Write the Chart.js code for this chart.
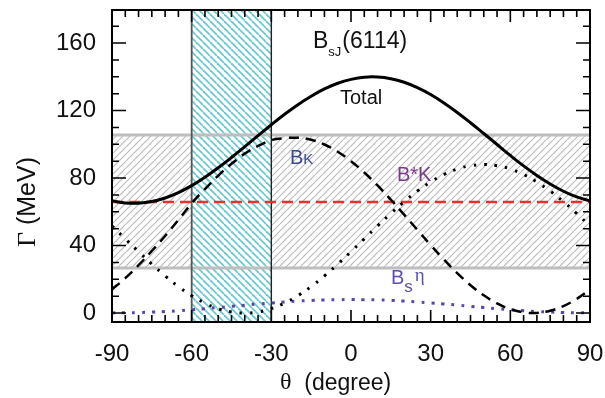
<!DOCTYPE html>
<html>
<head>
<meta charset="utf-8">
<script src="https://cdn.jsdelivr.net/npm/chart.js@4.4.1/dist/chart.umd.min.js"></script>
<style>
  body { margin: 0; background: #fff; }
  canvas { display: block; }
</style>
</head>
<body>
<canvas id="widthChart" width="605" height="398"></canvas>
<script>
// mixing angle theta (degree)
const theta = [-90, -85, -80, -75, -70, -65, -60, -55, -50, -45, -40, -35, -30, -25, -20, -15, -10, -5,
               0, 5, 10, 15, 20, 25, 30, 35, 40, 45, 50, 55, 60, 65, 70, 75, 80, 85, 90];
// widths in MeV
const total = [66.5, 65.2, 65.1, 66.1, 68.2, 71.4, 75.5, 80.5, 86.1, 92.2, 98.6, 105.1, 111.6, 117.8, 123.5, 128.5, 132.8, 136.2,
               138.5, 139.8, 139.9, 138.9, 136.8, 133.6, 129.5, 124.5, 118.9, 112.8, 106.4, 99.9, 93.4, 87.2, 81.5, 76.5, 72.2, 68.8, 66.5];
const bk = [14.0, 20.7, 28.4, 36.8, 45.7, 55.2, 65.0, 73.5, 81.5, 88.5, 94.5, 99.0, 102.5, 103.6, 103.9, 102.7, 99.9, 95.6,
            90.0, 83.3, 75.6, 67.2, 58.3, 49.3, 40.3, 31.7, 23.7, 16.5, 10.5, 5.7, 2.3, 0.4, 0.1, 1.4, 4.1, 8.4, 14.0];
const bstarK = [51.6, 44.0, 36.4, 29.0, 22.0, 15.7, 10.3, 5.9, 2.6, 0.7, 0.0, 0.7, 2.6, 5.9, 10.3, 15.7, 22.0, 29.0,
                36.4, 44.0, 51.6, 59.0, 66.0, 72.3, 77.7, 82.1, 85.4, 87.3, 88.0, 87.3, 85.4, 82.1, 77.7, 72.3, 66.0, 59.0, 51.6];
const bsEta = [0.1, 0.2, 0.3, 0.6, 0.9, 1.4, 2.0, 2.6, 3.3, 4.0, 4.7, 5.4, 6.0, 6.6, 7.1, 7.5, 7.8, 7.9,
               8.0, 7.9, 7.8, 7.5, 7.1, 6.6, 6.0, 5.4, 4.7, 4.0, 3.3, 2.6, 2.0, 1.4, 0.9, 0.6, 0.3, 0.2, 0.1];
const expWidth = 65.8;          // red dashed line
const expBand = [26.7, 105.5];  // grey hatched band
const thetaBand = [-60, -30];   // cyan hatched band
const xTicks = [-90, -60, -30, 0, 30, 60, 90];
const yTicks = [0, 40, 80, 120, 160];

const FONT = '"Liberation Sans", Arial, sans-serif';
const SERIF = '"Liberation Serif", "Times New Roman", serif';

function pts(ys) {
    return theta.map((t, i) => ({ x: t, y: ys[i] }));
}

function hatch(color, size, lw, back) {
    const c = document.createElement('canvas');
    c.width = size; c.height = size;
    const g = c.getContext('2d');
    g.strokeStyle = color;
    g.lineWidth = lw;
    for (let k = -1; k <= 1; k++) {
        g.beginPath();
        if (back) {
            g.moveTo(k * size, 0); g.lineTo(k * size + size, size);
        } else {
            g.moveTo(k * size, size); g.lineTo(k * size + size, 0);
        }
        g.stroke();
    }
    return g.createPattern(c, 'repeat');
}

const bandsPlugin = {
    id: 'bands',
    beforeDatasetsDraw(chart) {
        const ctx = chart.ctx, a = chart.chartArea;
        const xs = chart.scales.x, ys = chart.scales.y;
        ctx.save();
        ctx.beginPath();
        ctx.rect(a.left, a.top, a.right - a.left, a.bottom - a.top);
        ctx.clip();
        // grey band
        const gTop = ys.getPixelForValue(expBand[1]);
        const gBot = ys.getPixelForValue(expBand[0]);
        ctx.fillStyle = hatch('#bcbcbc', 7, 1.2, false);
        ctx.fillRect(a.left, gTop, a.right - a.left, gBot - gTop);
        // cyan band
        const cL = xs.getPixelForValue(thetaBand[0]);
        const cR = xs.getPixelForValue(thetaBand[1]);
        ctx.fillStyle = '#fff';
        ctx.fillRect(cL, a.top, cR - cL, a.bottom - a.top);
        ctx.fillStyle = hatch('#6cc8d2', 7, 1.8, true);
        ctx.fillRect(cL, a.top, cR - cL, a.bottom - a.top);
        // band borders
        ctx.strokeStyle = '#bebebe';
        ctx.lineWidth = 3;
        [gTop, gBot].forEach(y => {
            ctx.beginPath(); ctx.moveTo(a.left, y); ctx.lineTo(a.right, y); ctx.stroke();
        });
        ctx.strokeStyle = '#555';
        ctx.lineWidth = 1.8;
        ctx.beginPath(); ctx.moveTo(cL, a.top); ctx.lineTo(cL, a.bottom); ctx.stroke();
        ctx.strokeStyle = '#222';
        ctx.lineWidth = 1.4;
        ctx.beginPath(); ctx.moveTo(cR, a.top); ctx.lineTo(cR, a.bottom); ctx.stroke();
        ctx.restore();
    }
};

function txt(ctx, s, x, y, font, color, align) {
    ctx.font = font;
    ctx.fillStyle = color;
    ctx.textAlign = align || 'left';
    ctx.fillText(s, x, y);
    return ctx.measureText(s).width;
}

const framePlugin = {
    id: 'frame',
    afterDraw(chart) {
        const ctx = chart.ctx, a = chart.chartArea;
        const xs = chart.scales.x, ys = chart.scales.y;
        ctx.save();
        ctx.strokeStyle = '#000';
        ctx.lineWidth = 2;
        ctx.strokeRect(a.left, a.top, a.right - a.left, a.bottom - a.top);
        ctx.lineWidth = 1.6;
        // inward ticks, x every 5, y every 10
        for (let t = -90; t <= 90; t += 5) {
            const px = xs.getPixelForValue(t);
            const len = (t % 30 === 0) ? 12 : 7;
            ctx.beginPath();
            ctx.moveTo(px, a.bottom); ctx.lineTo(px, a.bottom - len);
            ctx.moveTo(px, a.top); ctx.lineTo(px, a.top + len);
            ctx.stroke();
        }
        for (let v = 0; v <= 170; v += 10) {
            const py = ys.getPixelForValue(v);
            const len = (v % 40 === 0) ? 14 : 7;
            ctx.beginPath();
            ctx.moveTo(a.left, py); ctx.lineTo(a.left + len, py);
            ctx.moveTo(a.right, py); ctx.lineTo(a.right - len, py);
            ctx.stroke();
        }
        ctx.textBaseline = 'alphabetic';
        // title
        let x = 313;
        x += txt(ctx, 'B', x, 48, '23px ' + FONT, '#111');
        x += txt(ctx, 'sJ', x, 56, '13px ' + FONT, '#111');
        txt(ctx, '(6114)', x + 1, 48, '23px ' + FONT, '#111');
        txt(ctx, 'Total', 340, 104, '20px ' + FONT, '#111');
        // BK
        x = 290;
        x += txt(ctx, 'B', x, 164, '20px ' + FONT, '#3a4896');
        txt(ctx, 'K', x, 164, '15px ' + FONT, '#3a4896');
        txt(ctx, 'B*K', 397, 181, '20px ' + FONT, '#7a3a88');
        x = 391;
        x += txt(ctx, 'B', x, 284, '20px ' + FONT, '#5a50b4');
        x += txt(ctx, 's', x, 292, '17px ' + FONT, '#5a50b4');
        txt(ctx, 'η', x + 2, 281, '19px ' + SERIF, '#5a50b4');
        // axis titles
        ctx.textBaseline = 'middle';
        x = 280;
        x += txt(ctx, 'θ', x, 383, '24px ' + SERIF, '#111');
        txt(ctx, '  (degree)', x, 384, '23px ' + FONT, '#111');
        ctx.translate(28, 202);
        ctx.rotate(-Math.PI / 2);
        ctx.font = '26px ' + SERIF;
        const w1 = ctx.measureText('Γ').width;
        ctx.font = '25px ' + FONT;
        const w2 = ctx.measureText(' (MeV)').width;
        x = -(w1 + w2) / 2;
        x += txt(ctx, 'Γ', x, 0, '26px ' + SERIF, '#111');
        txt(ctx, ' (MeV)', x, 0, '25px ' + FONT, '#111');
        ctx.restore();
    }
};

new Chart(document.getElementById('widthChart').getContext('2d'), {
    type: 'line',
    data: {
        datasets: [
            { label: 'Total', data: pts(total), borderColor: '#000', borderWidth: 3, pointRadius: 0, tension: 0.4 },
            { label: 'BK', data: pts(bk), borderColor: '#000', borderWidth: 2.5, borderDash: [10, 7], pointRadius: 0, tension: 0.4 },
            { label: 'B*K', data: pts(bstarK), borderColor: '#000', borderWidth: 3, borderDash: [2.5, 8], pointRadius: 0, tension: 0.4 },
            { label: 'Bs eta', data: pts(bsEta), borderColor: '#5548a8', borderWidth: 3, borderDash: [3, 7], pointRadius: 0, tension: 0.4 },
            { label: 'exp', data: [{ x: -90, y: expWidth }, { x: 90, y: expWidth }], borderColor: '#e8312c', borderWidth: 2.5, borderDash: [11, 6], pointRadius: 0 }
        ]
    },
    options: {
        responsive: false,
        animation: false,
        devicePixelRatio: 1,
        layout: { padding: { left: 0, right: 15, top: 10, bottom: 0 } },
        plugins: { legend: { display: false }, tooltip: { enabled: false } },
        scales: {
            x: {
                type: 'linear', min: -90, max: 90,
                grid: { display: false, drawTicks: false },
                border: { display: false },
                afterBuildTicks: s => { s.ticks = xTicks.map(v => ({ value: v })); },
                afterFit: s => { s.height = 76; s.paddingLeft = 0; s.paddingRight = 0; },
                ticks: { font: { family: FONT, size: 24 }, color: '#111', padding: 18, maxRotation: 0 }
            },
            y: {
                type: 'linear', min: -5.3, max: 179.6,
                grid: { display: false, drawTicks: false },
                border: { display: false },
                afterBuildTicks: s => { s.ticks = yTicks.map(v => ({ value: v })); },
                afterFit: s => { s.width = 112; s.paddingTop = 0; s.paddingBottom = 0; },
                ticks: { font: { family: FONT, size: 24 }, color: '#111', padding: 16 }
            }
        }
    },
    plugins: [bandsPlugin, framePlugin]
});
</script>
</body>
</html>
